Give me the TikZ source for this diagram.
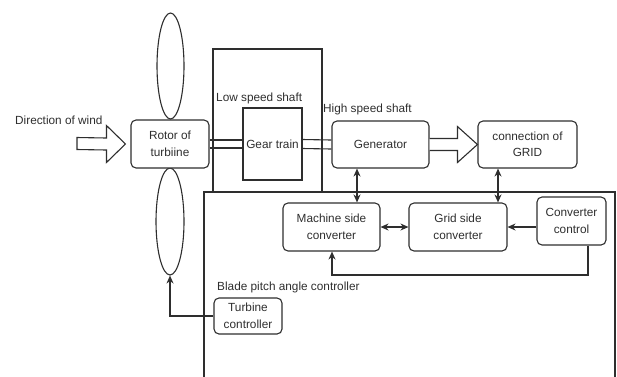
\documentclass[tikz,border=0pt]{standalone}
\usepackage{fontspec}
\setmainfont{Liberation Sans}
\usetikzlibrary{arrows.meta,calc,shapes.geometric}
\definecolor{ink}{HTML}{2E2E2E}
\begin{document}
\begin{tikzpicture}[x=1pt,y=-1pt,
  every node/.style={text=ink,font=\fontsize{11.8}{16.5}\selectfont},
  rbox/.style={draw=ink,line width=1.1pt,rounded corners=5pt,align=center,inner sep=0pt},
  sbox/.style={draw=ink,line width=1.1pt,align=center,inner sep=0pt},
  blade/.style={draw=ink,line width=1.1pt,ellipse,inner sep=0pt},
  lbl/.style={anchor=west,inner sep=0pt},
  ln/.style={draw=ink,line width=1.1pt},
  arr/.style={draw=ink,line width=1.1pt,-{Stealth[length=8pt,width=7pt]}},
  darr/.style={draw=ink,line width=1.1pt,{Stealth[length=8pt,width=7pt]}-{Stealth[length=8pt,width=7pt]}},
  fat/.style={draw=ink,line width=1.1pt,fill=white,line join=miter}]
\useasboundingbox (0,0) rectangle (617,376);
% housings
\draw[ln] (204,380) -- (204,192) -- (615,192) -- (615,380);
\draw[ln] (213,49) rectangle (322,192);
% blades
\node[blade,minimum width=27pt,minimum height=106pt] (bladeT) at (170.5,66) {};
\node[blade,minimum width=28pt,minimum height=107pt] (bladeB) at (170,221.5) {};
% nodes
\node[rbox,minimum width=78pt,minimum height=48pt,fill=white] (rotor) at (170,144) {Rotor of\\turbiine};
\node[sbox,minimum width=59pt,minimum height=72pt] (gear) at (272.5,144) {Gear train};
\node[rbox,minimum width=97pt,minimum height=47pt] (gen) at (380.5,144.5) {Generator};
\node[rbox,minimum width=99pt,minimum height=47pt] (grid) at (527.5,144.5) {connection of\\GRID};
\node[rbox,minimum width=97pt,minimum height=48pt] (msc) at (331.5,227) {Machine side\\converter};
\node[rbox,minimum width=98pt,minimum height=48pt] (gsc) at (458,227) {Grid side\\converter};
\node[rbox,minimum width=69pt,minimum height=48pt] (cc) at (571.5,221) {Converter\\control};
\node[rbox,minimum width=68pt,minimum height=36pt] (tc) at (248,316) {Turbine\\controller};
% labels
\node[lbl] (lwind) at (15,120) {Direction of wind};
\node[lbl] (llow) at (216,98) {Low speed shaft};
\node[lbl] (lhigh) at (323,109) {High speed shaft};
\node[lbl] (lblade) at (217,287) {Blade pitch angle controller};
% shafts
\draw[ln] ($(rotor.east)+(0,-4)$) -- ($(gear.west)+(0,-4)$);
\draw[ln] ($(rotor.east)+(0,4)$) -- ($(gear.west)+(0,4)$);
\draw[ln] ($(gear.east)+(0,-4.5)$) -- ($(gen.west)+(0,-4.5)$);
\draw[ln] ($(gear.east)+(0,4.5)$) -- ($(gen.west)+(0,4.5)$);
% wind arrow
\coordinate (windtail) at (77,143.5);
\coordinate (windtip) at ($(rotor.west)+(-5,0)$);
\draw[fat] ($(windtail)+(0,-6)$) -- ($(windtip)+(-19,-6)$) -- ($(windtip)+(-19,-18.5)$) -- (windtip)
  -- ($(windtip)+(-19,18.5)$) -- ($(windtip)+(-19,6)$) -- ($(windtail)+(0,6)$) -- cycle;
% generator to grid fat arrow
\draw[fat] ($(gen.east)+(0,-6)$) -- ($(grid.west)+(-20,-6)$) -- ($(grid.west)+(-20,-18)$) -- (grid.west)
  -- ($(grid.west)+(-20,18)$) -- ($(grid.west)+(-20,6)$) -- ($(gen.east)+(0,6)$);
% connectors
\draw[darr] (gen.south -| 357,0) -- (msc.north -| 357,0);
\draw[darr] (grid.south -| 498,0) -- (gsc.north -| 498,0);
\draw[darr] (msc.east) -- (gsc.west);
\draw[arr] (cc.west |- gsc.east) -- (gsc.east);
\draw[arr] (cc.south -| 588,0) -- (588,275) -- (332,275) -- (msc.south -| 332,0);
\draw[arr] (tc.west) -- (tc.west -| bladeB.south) -- (bladeB.south);
\end{tikzpicture}
\end{document}
